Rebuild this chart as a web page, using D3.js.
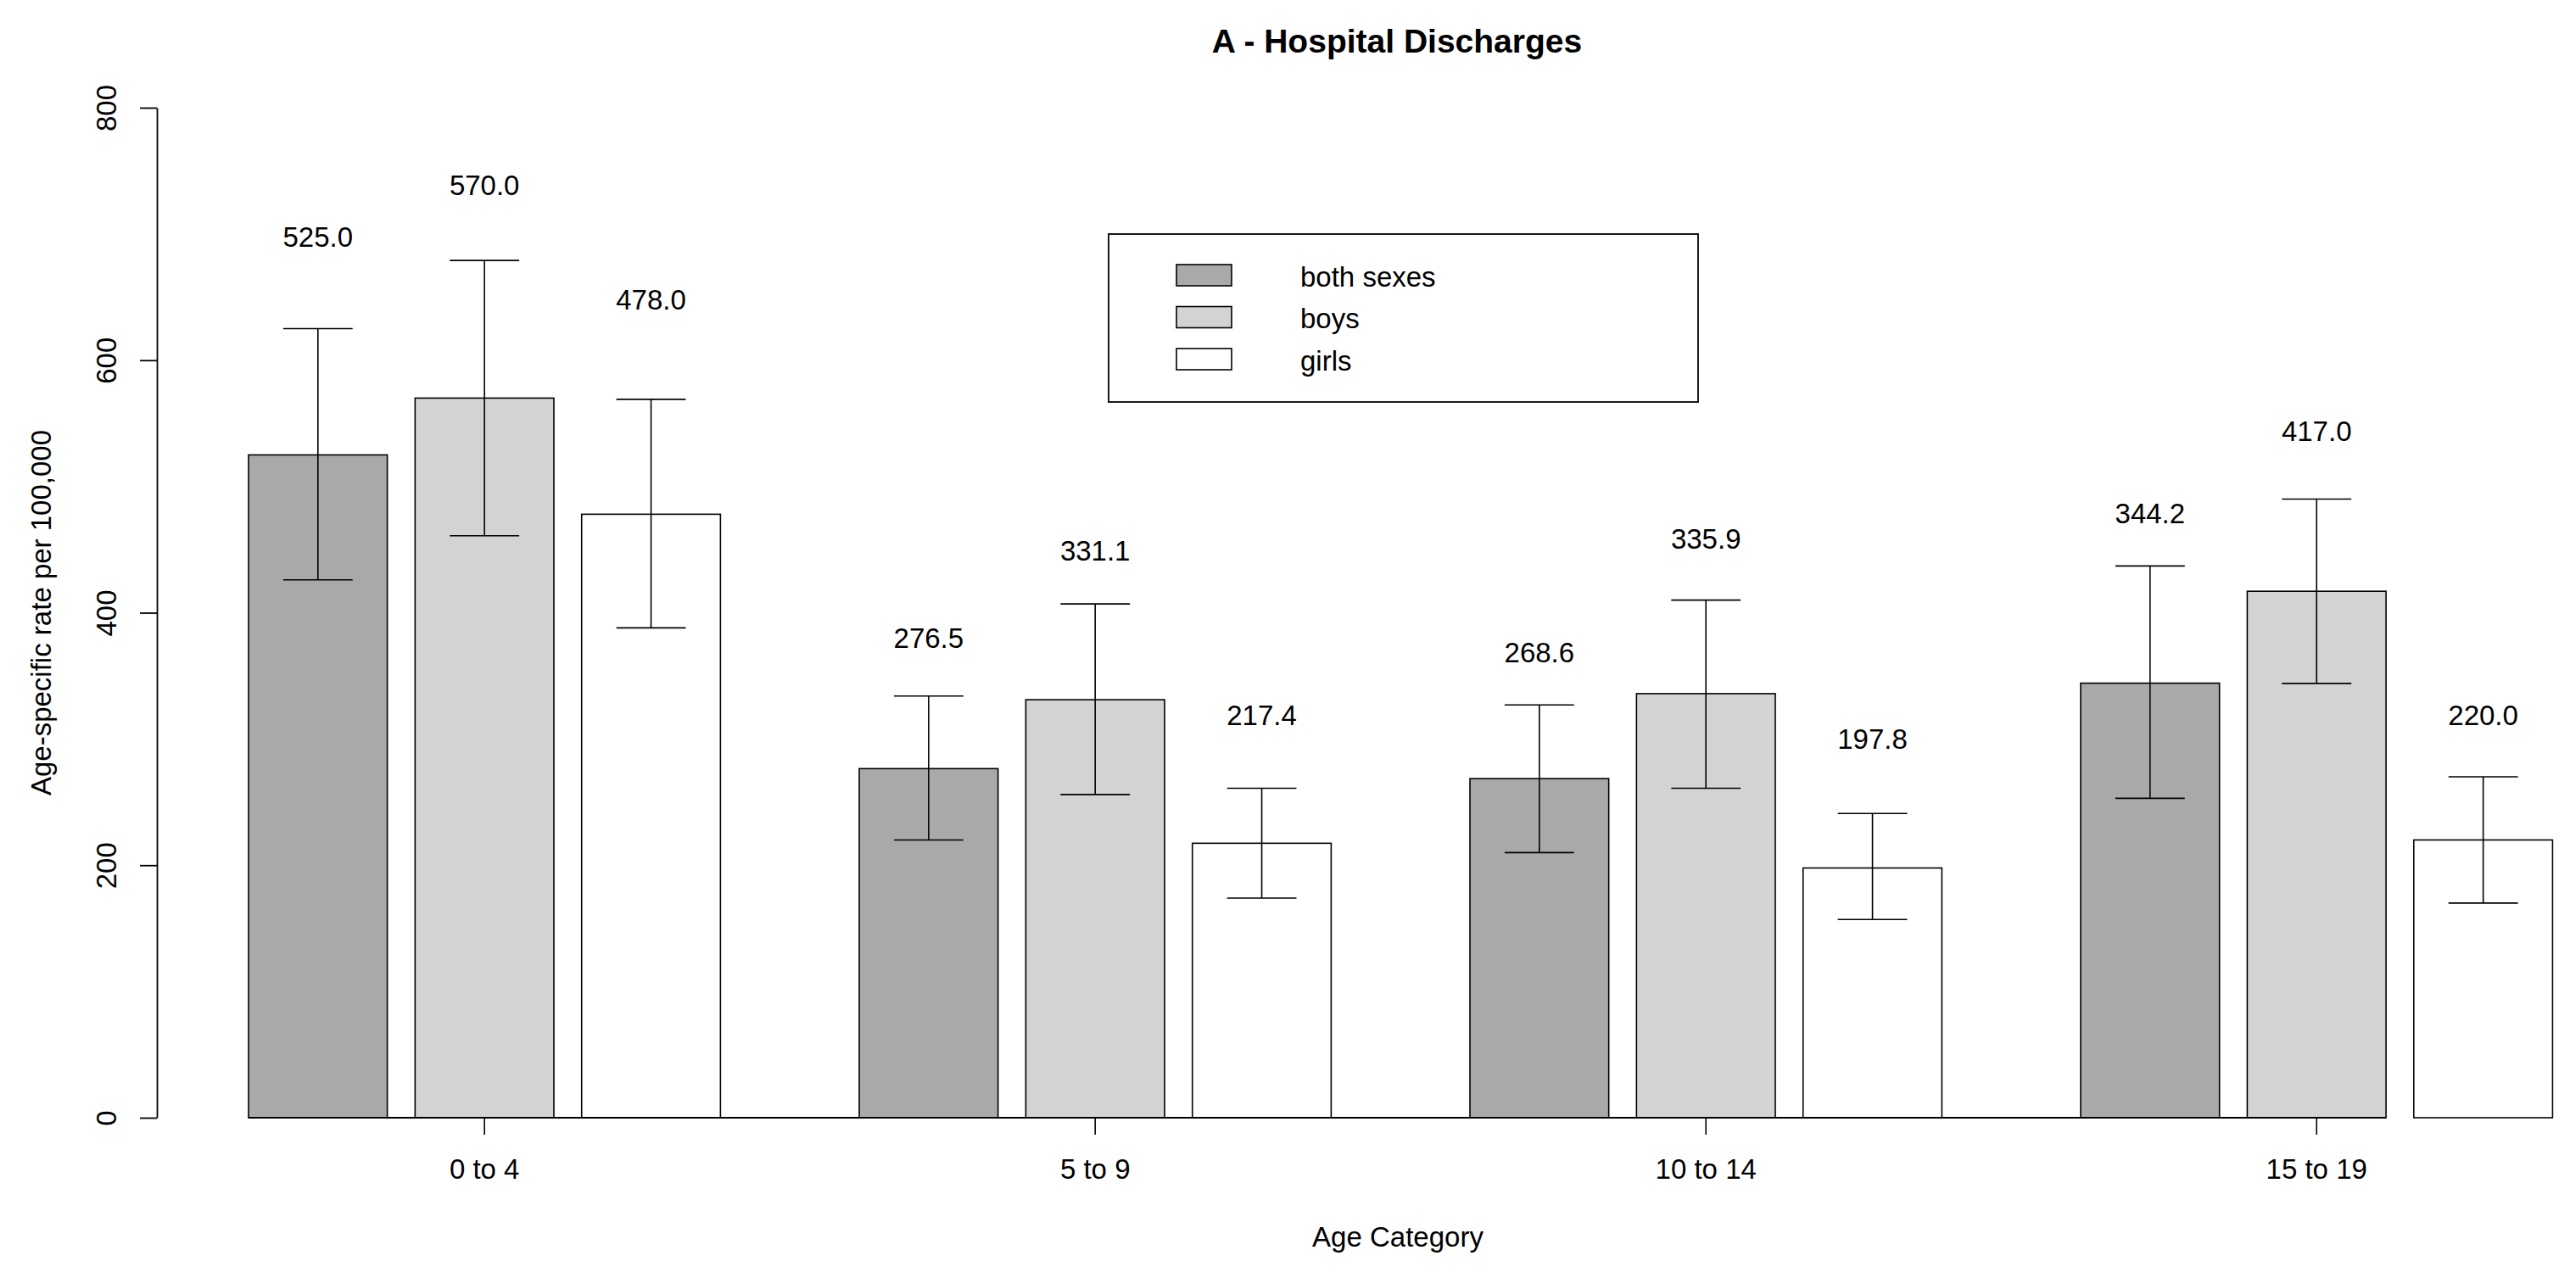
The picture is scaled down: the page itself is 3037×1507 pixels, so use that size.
<!DOCTYPE html>
<html>
<head>
<meta charset="utf-8">
<title>A - Hospital Discharges</title>
<script src="https://cdn.jsdelivr.net/npm/d3@7"></script>
<style>
  body { margin: 0; background: #fff; }
  text { font-family: "Liberation Sans", Arial, sans-serif; fill: #000; }
</style>
</head>
<body>
<div class="container"></div>
<script>
const w = 3037;
const h = 1507;
let svg = null;

const ageGroups = ['0 to 4', '5 to 9', '10 to 14', '15 to 19'];
const seriesNames = ['both sexes', 'boys', 'girls'];
const yTicks = [0, 200, 400, 600, 800];

const bothSexes = [525.0, 276.5, 268.6, 344.2];
const boys = [570.0, 331.1, 335.9, 417.0];
const girls = [478.0, 217.4, 197.8, 220.0];

// confidence limits
const bothLower = [426, 220, 210, 253];
const bothUpper = [625, 334, 327, 437];
const boysLower = [461, 256, 261, 344];
const boysUpper = [679, 407, 410, 490];
const girlsLower = [388, 174, 157, 170];
const girlsUpper = [569, 261, 241, 270];

// height (in rate units) where each value label sits
const bothLabelAt = [690, 372, 361, 471];
const boysLabelAt = [731, 441, 451, 536];
const girlsLabelAt = [640, 311, 292, 311];

const fills = ['#a9a9a9', '#d3d3d3', '#ffffff'];

const rows = [];
[bothSexes, boys, girls].forEach((vals, s) => {
  const lo = [bothLower, boysLower, girlsLower][s];
  const hi = [bothUpper, boysUpper, girlsUpper][s];
  const lab = [bothLabelAt, boysLabelAt, girlsLabelAt][s];
  vals.forEach((v, g) => {
    rows.push({ group: ageGroups[g], series: seriesNames[s], value: v, lo: lo[g], hi: hi[g], labelAt: lab[g] });
  });
});

const x0 = d3.scaleBand().domain(ageGroups).range([293, 3009.4]).paddingInner(1 / 4.4).paddingOuter(0);
const x1 = d3.scaleBand().domain(seriesNames).range([0, x0.bandwidth()]).paddingInner(0.2 / 1.2).paddingOuter(0);
const y = d3.scaleLinear().domain([0, 800]).range([1318, 127]);
const fill = d3.scaleOrdinal().domain(seriesNames).range(fills);

window.onload = () => {
  setSvg();
  drawBars();
  drawErrors();
  drawLabels();
  drawAxes();
  drawLegend();
};

function setSvg() {
  svg = d3.select('.container').append('svg')
    .attr('width', w)
    .attr('height', h)
    .style('display', 'block');
  svg.append('rect').attr('width', w).attr('height', h).attr('fill', '#fff');
}

function barX(d) {
  return x0(d.group) + x1(d.series);
}

function drawBars() {
  svg.append('g').selectAll('rect').data(rows).enter().append('rect')
    .attr('x', barX)
    .attr('y', (d) => y(d.value))
    .attr('width', x1.bandwidth())
    .attr('height', (d) => y(0) - y(d.value))
    .attr('fill', (d) => fill(d.series))
    .attr('stroke', '#000')
    .attr('stroke-width', 1.6);

  // baseline under the bars
  const last = ageGroups[ageGroups.length - 1];
  svg.append('line')
    .attr('x1', x0(ageGroups[0]))
    .attr('x2', x0(last) + x1('boys') + x1.bandwidth())
    .attr('y1', y(0))
    .attr('y2', y(0))
    .attr('stroke', '#000')
    .attr('stroke-width', 2.2);
}

function drawErrors() {
  const cap = x1.bandwidth() / 4;
  const g = svg.append('g').attr('stroke', '#000').attr('stroke-width', 1.6);
  const bars = g.selectAll('g').data(rows).enter().append('g');
  const cx = (d) => barX(d) + x1.bandwidth() / 2;

  bars.append('line')
    .attr('x1', cx).attr('x2', cx)
    .attr('y1', (d) => y(d.lo)).attr('y2', (d) => y(d.hi));
  bars.append('line')
    .attr('x1', (d) => cx(d) - cap).attr('x2', (d) => cx(d) + cap)
    .attr('y1', (d) => y(d.hi)).attr('y2', (d) => y(d.hi));
  bars.append('line')
    .attr('x1', (d) => cx(d) - cap).attr('x2', (d) => cx(d) + cap)
    .attr('y1', (d) => y(d.lo)).attr('y2', (d) => y(d.lo));
}

function drawLabels() {
  svg.append('g').selectAll('text').data(rows).enter().append('text')
    .text((d) => d.value.toFixed(1))
    .attr('x', (d) => barX(d) + x1.bandwidth() / 2)
    .attr('y', (d) => y(d.labelAt))
    .attr('text-anchor', 'middle')
    .attr('font-size', '33px');
}

function drawAxes() {
  const yAxis = svg.append('g')
    .attr('transform', `translate(185,0)`)
    .call(d3.axisLeft(y).tickValues(yTicks).tickSize(20).tickSizeOuter(0));
  yAxis.select('.domain').attr('stroke-width', 1.8);
  yAxis.selectAll('.tick line').attr('stroke-width', 1.8);
  yAxis.selectAll('.tick text')
    .attr('transform', 'rotate(-90)')
    .attr('x', 0)
    .attr('y', -48)
    .attr('dy', 0)
    .attr('text-anchor', 'middle')
    .attr('font-size', '33px')
    .attr('font-family', '"Liberation Sans", Arial, sans-serif');

  const xAxis = svg.append('g')
    .attr('transform', `translate(0,${y(0)})`)
    .call(d3.axisBottom(x0).tickSize(20).tickSizeOuter(0));
  xAxis.select('.domain').remove();
  xAxis.selectAll('.tick line').attr('stroke-width', 1.6);
  xAxis.selectAll('.tick text')
    .attr('y', 72)
    .attr('dy', 0)
    .attr('font-size', '33px')
    .attr('font-family', '"Liberation Sans", Arial, sans-serif');

  svg.append('text')
    .text('A - Hospital Discharges')
    .attr('x', 1647)
    .attr('y', 62)
    .attr('text-anchor', 'middle')
    .attr('font-size', '39px')
    .attr('font-weight', 'bold');

  svg.append('text')
    .text('Age Category')
    .attr('x', 1648)
    .attr('y', 1470)
    .attr('text-anchor', 'middle')
    .attr('font-size', '33px');

  svg.append('text')
    .text('Age-specific rate per 100,000')
    .attr('transform', `translate(60,${(y(0) + y(800)) / 2}) rotate(-90)`)
    .attr('text-anchor', 'middle')
    .attr('font-size', '33px');
}

function drawLegend() {
  const lg = svg.append('g');
  lg.append('rect')
    .attr('x', 1307).attr('y', 276)
    .attr('width', 695).attr('height', 198)
    .attr('fill', 'none')
    .attr('stroke', '#000')
    .attr('stroke-width', 1.8);

  const items = lg.selectAll('g').data(seriesNames).enter().append('g')
    .attr('transform', (d, i) => `translate(0,${324.5 + i * 49.5})`);
  items.append('rect')
    .attr('x', 1387).attr('y', -12.5)
    .attr('width', 65).attr('height', 25)
    .attr('fill', (d) => fill(d))
    .attr('stroke', '#000')
    .attr('stroke-width', 1.6);
  items.append('text')
    .text((d) => d)
    .attr('x', 1533)
    .attr('y', 13)
    .attr('font-size', '33px');
}
</script>
</body>
</html>
